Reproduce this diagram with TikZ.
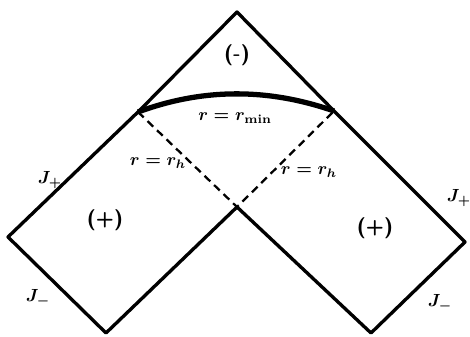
\documentclass[tikz,border=0pt]{standalone}
\begin{document}
\begin{tikzpicture}[x=0.02cm,y=-0.02cm,line width=1.9pt,line join=round,
  lbl/.style={font=\sffamily\bfseries\boldmath},
  sgn/.style={font=\sffamily\bfseries\large}]
\useasboundingbox (0,0) rectangle (470,337);
\coordinate (top) at (237,12);
\coordinate (ul) at (138,112);
\coordinate (ur) at (334,111);
\coordinate (c) at (237,207);
\coordinate (l) at (8,237);
\coordinate (lb) at (106,333);
\coordinate (r) at (465,242);
\coordinate (rb) at (371,333);

\draw (top) -- (ul) -- (l) -- (lb) -- (c) -- (rb) -- (r) -- (ur) -- cycle;
\draw[line width=1.3pt,dash pattern=on 4.5pt off 3pt] (ul) -- (c) -- (ur);
\draw[line width=3pt] (ul) .. controls (203,88) and (268,88) .. (ur);

\node[sgn] (minus) at (237,55) {(-)};
\node[lbl] (rmin) at (235,118) {$r=r_{\mathrm{min}}$};
\node[lbl] (rhl) at (158,163) {$r=r_h$};
\node[lbl] (rhr) at (309,172) {$r=r_h$};
\node[sgn] (pl) at (105,220) {(+)};
\node[sgn] (pr) at (375,228) {(+)};
\node[lbl] (jpl) at (50,180) {$J_+$};
\node[lbl] (jpr) at (459,198) {$J_+$};
\node[lbl] (jml) at (38,298) {$J_-$};
\node[lbl] (jmr) at (440,303) {$J_-$};
\end{tikzpicture}
\end{document}
